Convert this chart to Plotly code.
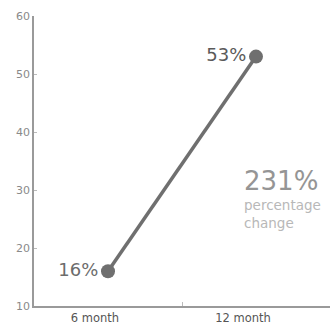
import plotly.graph_objects as go

periods = ["6 month", "12 month"]
share = [16, 53]
share_labels = ["16%", "53%"]
label_colors = ["#6c6c6c", "#5a5a5a"]
change_value = "231%"
change_caption = "percentage<br>change"
y_ticks = [10, 20, 30, 40, 50, 60]

FONT = "'DejaVu Sans', Verdana, sans-serif"

fig = go.Figure()
fig.add_trace(go.Scatter(
    x=periods, y=share,
    mode="lines+markers+text",
    line=dict(color="#6f6f6f", width=3.5),
    marker=dict(color="#6f6f6f", size=14),
    text=share_labels,
    textposition="middle left",
    textfont=dict(family=FONT, size=18, color=label_colors),
    cliponaxis=False,
    hoverinfo="skip",
))

fig.add_annotation(
    x=1, y=31.6, xref="x", yref="y",
    text=change_value, showarrow=False,
    xanchor="left", yanchor="middle", xshift=-14,
    font=dict(family=FONT, size=26, color="#959595"),
)
fig.add_annotation(
    x=1, y=25.9, xref="x", yref="y",
    text=change_caption, showarrow=False, align="left",
    xanchor="left", yanchor="middle", xshift=-14,
    font=dict(family=FONT, size=13.5, color="#b8b8b8"),
)

fig.update_layout(
    width=336, height=331,
    margin=dict(l=34, r=6, t=16, b=19),
    paper_bgcolor="white", plot_bgcolor="white",
    showlegend=False,
)
fig.update_xaxes(
    type="category", range=[-0.5, 1.5],
    showline=True, linecolor="#9a9a9a", linewidth=1.5,
    showgrid=False, zeroline=False,
    tickson="boundaries", ticks="inside", ticklen=4, tickcolor="#bbbbbb",
    ticklabelshift=-13,
    tickfont=dict(family=FONT, size=11.5, color="#555555"),
)
fig.update_yaxes(
    range=[10, 60], tickvals=y_ticks,
    showline=True, linecolor="#9a9a9a", linewidth=1.5,
    showgrid=False, zeroline=False,
    ticks="inside", ticklen=3, tickcolor="#bbbbbb",
    tickfont=dict(family=FONT, size=11, color="#8a8a8a"),
)

fig.write_html("out.html")
